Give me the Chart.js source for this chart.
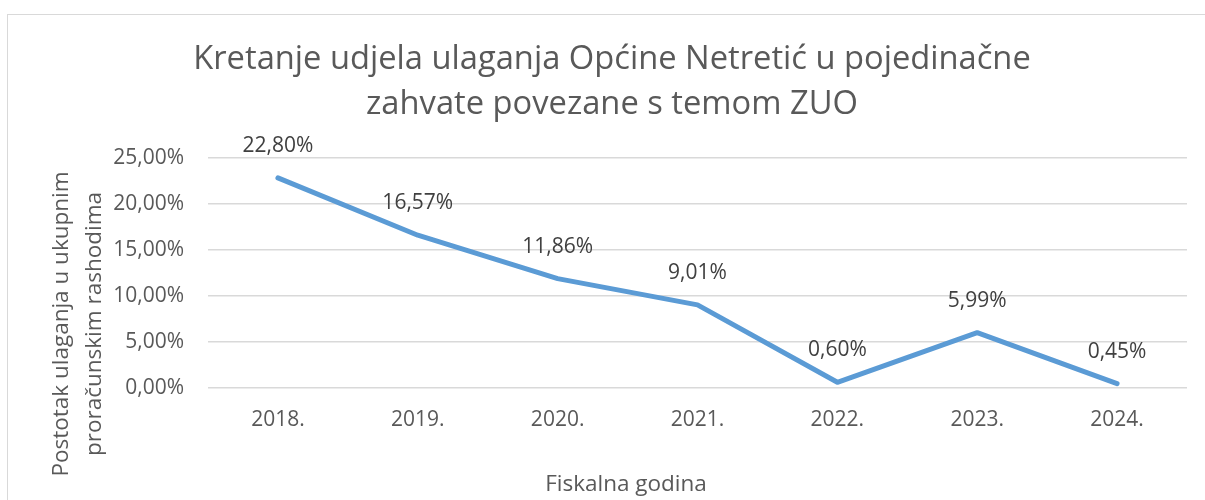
<!DOCTYPE html>
<html lang="hr">
<head>
    <meta charset="UTF-8">
    <title>Kretanje udjela ulaganja</title>
    <script src="https://cdn.jsdelivr.net/npm/chart.js"></script>
    <style>
        body { margin: 0; background: #fff; overflow: hidden; }
        #box { position: absolute; left: 7px; top: 14px; border: 1px solid #d9d9d9; width: 1208px; height: 500px; }
    </style>
</head>
<body>
    <div id="box"><canvas id="chart" width="1208" height="485"></canvas></div>
    <script>
        // data
        const years = ['2018.', '2019.', '2020.', '2021.', '2022.', '2023.', '2024.'];
        const shares = [22.80, 16.57, 11.86, 9.01, 0.60, 5.99, 0.45];
        const yTicks = [0, 5, 10, 15, 20, 25];

        const titleLines = ['Kretanje udjela ulaganja Općine Netretić u pojedinačne', 'zahvate povezane s temom ZUO'];
        const yTitle = ['Postotak ulaganja u ukupnim', 'proračunskim rashodima'];
        const xTitle = 'Fiskalna godina';

        const fontFamily = '"Open Sans", "Noto Sans", sans-serif';
        const grey = '#595959';

        const pct = v => v.toFixed(2).replace('.', ',') + '%';

        // labels above points + axis titles placed like the original
        const extras = {
            id: 'extras',
            afterDatasetsDraw(chart) {
                const ctx = chart.ctx;
                const meta = chart.getDatasetMeta(0);
                ctx.save();
                ctx.font = '21px ' + fontFamily;
                ctx.fillStyle = '#404040';
                ctx.textAlign = 'center';
                ctx.textBaseline = 'middle';
                meta.data.forEach((pt, i) => {
                    ctx.fillText(pct(shares[i]), pt.x, pt.y - 32);
                });

                ctx.font = '22.5px ' + fontFamily;
                ctx.fillStyle = grey;
                ctx.fillText(xTitle, 618, 470);

                ctx.translate(0, 309);
                ctx.rotate(-Math.PI / 2);
                ctx.fillText(yTitle[0], 0, 54);
                ctx.fillText(yTitle[1], 0, 87);
                ctx.restore();
            }
        };

        new Chart(document.getElementById('chart'), {
            type: 'line',
            data: {
                labels: years,
                datasets: [{
                    data: shares,
                    borderColor: '#5B9BD5',
                    borderWidth: 5,
                    borderCapStyle: 'round',
                    borderJoinStyle: 'round',
                    pointRadius: 0,
                    tension: 0,
                    fill: false
                }]
            },
            options: {
                responsive: false,
                animation: false,
                // equal side padding keeps the title centred on the canvas
                layout: { padding: { left: 29, right: 29, top: 0, bottom: 47 } },
                plugins: {
                    legend: { display: false },
                    tooltip: { enabled: false },
                    title: {
                        display: true,
                        text: titleLines,
                        color: grey,
                        font: { family: fontFamily, size: 32.7, weight: 'normal', lineHeight: 1.37 },
                        padding: { top: 22.5, bottom: 30.5 }
                    }
                },
                scales: {
                    x: {
                        offset: true,
                        grid: { display: false, drawTicks: false },
                        border: { display: false },
                        ticks: { color: grey, font: { family: fontFamily, size: 21 }, padding: 20 }
                    },
                    y: {
                        min: 0,
                        max: 25,
                        afterFit(scale) { scale.width = 171; },
                        afterBuildTicks(scale) { scale.ticks = yTicks.map(v => ({ value: v })); },
                        grid: { color: '#d9d9d9', lineWidth: 1.5, drawTicks: false },
                        border: { display: false },
                        ticks: {
                            color: grey,
                            font: { family: fontFamily, size: 21 },
                            padding: 24,
                            callback: v => pct(v)
                        }
                    }
                }
            },
            plugins: [extras]
        });
    </script>
</body>
</html>
